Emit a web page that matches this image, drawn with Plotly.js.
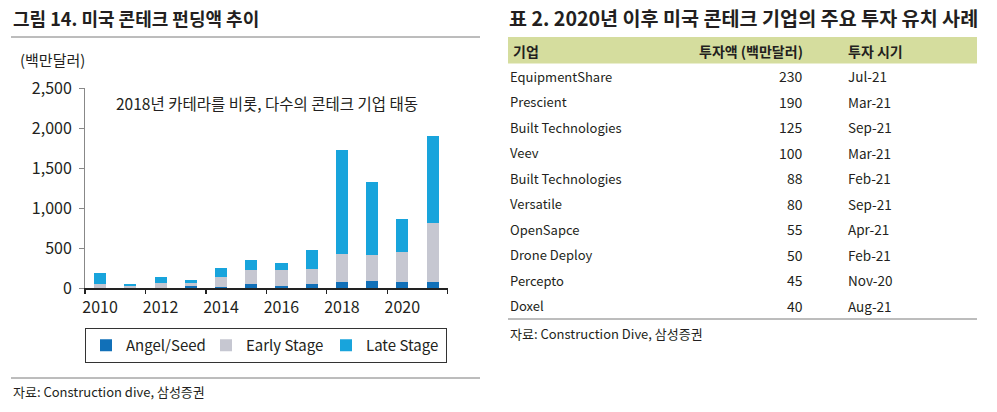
<!DOCTYPE html>
<html>
<head>
<meta charset="utf-8">
<script src="https://cdn.plot.ly/plotly-3.0.1.min.js"></script>
<style>html,body{margin:0;padding:0;background:#fff;}#chart{width:997px;height:412px;}</style>
</head>
<body>
<div id="chart"></div>
<script>
// ---- Chart data (백만달러) ----
const years = [2010, 2011, 2012, 2013, 2014, 2015, 2016, 2017, 2018, 2019, 2020, 2021];
const angelSeed  = [3, 2, 5, 20, 18, 52, 27, 48, 78, 88, 80, 70];
const earlyStage = [42, 20, 55, 48, 120, 168, 197, 188, 345, 330, 375, 740];
const lateStage  = [140, 26, 82, 28, 115, 130, 95, 240, 1300, 905, 415, 1095];
const seriesNames = ['Angel/Seed', 'Early Stage', 'Late Stage'];
const xTickVals = [2010, 2012, 2014, 2016, 2018, 2020];
const xTickText = ['2010', '2012', '2014', '2016', '2018', '2020'];
const xBoundaryTicks = [2009.5, 2011.5, 2013.5, 2015.5, 2017.5, 2019.5, 2021.5];
const yTickVals = [0, 500, 1000, 1500, 2000, 2500];
const yTickText = ['0', '500', '1,000', '1,500', '2,000', '2,500'];

// ---- Table data ----
const tableHeader = ['기업', '투자액 (백만달러)', '투자 시기'];
const companies = ['EquipmentShare', 'Prescient', 'Built Technologies', 'Veev', 'Built Technologies',
                   'Versatile', 'OpenSapce', 'Drone Deploy', 'Percepto', 'Doxel'];
const amounts = [230, 190, 125, 100, 88, 80, 55, 50, 45, 40];
const periods = ['Jul-21', 'Mar-21', 'Sep-21', 'Mar-21', 'Feb-21', 'Sep-21', 'Apr-21', 'Feb-21', 'Nov-20', 'Aug-21'];

const W = 997, H = 412;
const px = x => x / W;
const py = y => 1 - y / H;
const FONT = '"Noto Sans CJK KR", "Noto Sans", sans-serif';
const TXT = '#231f20';
const colors = ['#1170b8', '#c6c7d1', '#18a4dc'];

const traces = [angelSeed, earlyStage, lateStage].map((vals, i) => ({
  type: 'bar', x: years, y: vals, name: seriesNames[i],
  marker: {color: colors[i], line: {width: 0}}, width: 0.4,
  hoverinfo: 'x+y+name'
}));

const ann = [];
function t(text, x, y, opts) {
  ann.push(Object.assign({text: text, x: px(x), y: py(y), xref: 'paper', yref: 'paper',
    showarrow: false, xanchor: 'left', yanchor: 'middle',
    font: {family: FONT, size: 13, color: TXT}}, opts || {}));
}
// left panel texts
t('<b>그림 14. 미국 콘테크 펀딩액 추이</b>', 11, 18, {font: {family: FONT, size: 18, color: TXT}});
t('(백만달러)', 18, 60, {font: {family: FONT, size: 15, color: TXT}});
t('2018년 카테라를 비롯, 다수의 콘테크 기업 태동', 267, 103.5, {xanchor: 'center', font: {family: FONT, size: 15.5, color: TXT}});
t('자료: Construction dive, 삼성증권', 11, 391, {font: {family: FONT, size: 13, color: TXT}});
// right panel texts
t('<b>표 2. 2020년 이후 미국 콘테크 기업의 주요 투자 유치 사례</b>', 507, 18, {font: {family: FONT, size: 19.6, color: TXT}});
const colX = [511, 805, 846];
const colAnchor = ['left', 'right', 'left'];
tableHeader.forEach((h, j) => t('<b>' + h + '</b>', colX[j], 50.5, {xanchor: colAnchor[j], font: {family: FONT, size: 14, color: TXT}}));
const rowTop = 63.5, rowH = 25.5;
companies.forEach((c, i) => {
  const yc = rowTop + rowH * (i + 0.5);
  t(c, 508, yc);
  t(String(amounts[i]), colX[1], yc, {xanchor: 'right', font: {family: FONT, size: 14, color: TXT}});
  t(periods[i], colX[2], yc, {font: {family: FONT, size: 13.5, color: TXT}});
});
t('자료: Construction Dive, 삼성증권', 508, 333, {font: {family: FONT, size: 13, color: TXT}});

const shapes = [
  {type: 'line', xref: 'paper', yref: 'paper', x0: px(11), x1: px(480), y0: py(37), y1: py(37), line: {color: '#7a7a7a', width: 1}},
  {type: 'line', xref: 'paper', yref: 'paper', x0: px(11), x1: px(480), y0: py(378), y1: py(378), line: {color: '#7a7a7a', width: 1}},
  {type: 'rect', xref: 'paper', yref: 'paper', x0: px(508), x1: px(977), y0: py(63.5), y1: py(37), fillcolor: '#d5dd9e', line: {width: 0}, layer: 'below'},
  {type: 'line', xref: 'paper', yref: 'paper', x0: px(508), x1: px(977), y0: py(319), y1: py(319), line: {color: '#7a7a7a', width: 1}}
];

const xDomain = [px(85), px(447.7)];
const layout = {
  width: W, height: H, margin: {l: 0, r: 0, t: 0, b: 0},
  paper_bgcolor: '#fff', plot_bgcolor: 'rgba(0,0,0,0)',
  font: {family: FONT, size: 15, color: TXT},
  barmode: 'stack', showlegend: true,
  xaxis: {domain: xDomain, range: [2009.5, 2021.5], tickmode: 'array', tickvals: xTickVals, ticktext: xTickText,
          ticks: '', showline: true, linecolor: '#222', linewidth: 1.5, showgrid: false, zeroline: false,
          tickfont: {family: FONT, size: 16, color: TXT}, ticklabelstandoff: 4, fixedrange: true},
  xaxis2: {domain: xDomain, range: [2009.5, 2021.5], overlaying: 'x', anchor: 'y', tickmode: 'array', tickvals: xBoundaryTicks,
           showticklabels: false, ticks: 'outside', ticklen: 5, tickcolor: '#222', tickwidth: 1.2, showline: false, showgrid: false, zeroline: false},
  yaxis: {domain: [py(288), py(88.3)], range: [0, 2500], tickmode: 'array', tickvals: yTickVals, ticktext: yTickText,
          ticks: 'outside', ticklen: 5, tickcolor: '#888', showline: true, linecolor: '#888', linewidth: 1,
          showgrid: false, zeroline: false, tickfont: {family: FONT, size: 16, color: TXT}, ticklabelstandoff: 4, fixedrange: true},
  legend: {orientation: 'h', x: px(85), y: py(328), xanchor: 'left', yanchor: 'top',
           bordercolor: '#333', borderwidth: 1, bgcolor: '#fff', font: {family: FONT, size: 15, color: TXT},
           traceorder: 'normal', entrywidth: 75, entrywidthmode: 'pixels'},
  annotations: ann, shapes: shapes
};
// invisible point that activates the boundary tick axis
traces.push({type: 'scatter', x: [2010], y: [0], xaxis: 'x2', yaxis: 'y', mode: 'markers', marker: {opacity: 0}, showlegend: false, hoverinfo: 'skip'});

Plotly.newPlot('chart', traces, layout, {displayModeBar: false, staticPlot: true});
</script>
</body>
</html>
